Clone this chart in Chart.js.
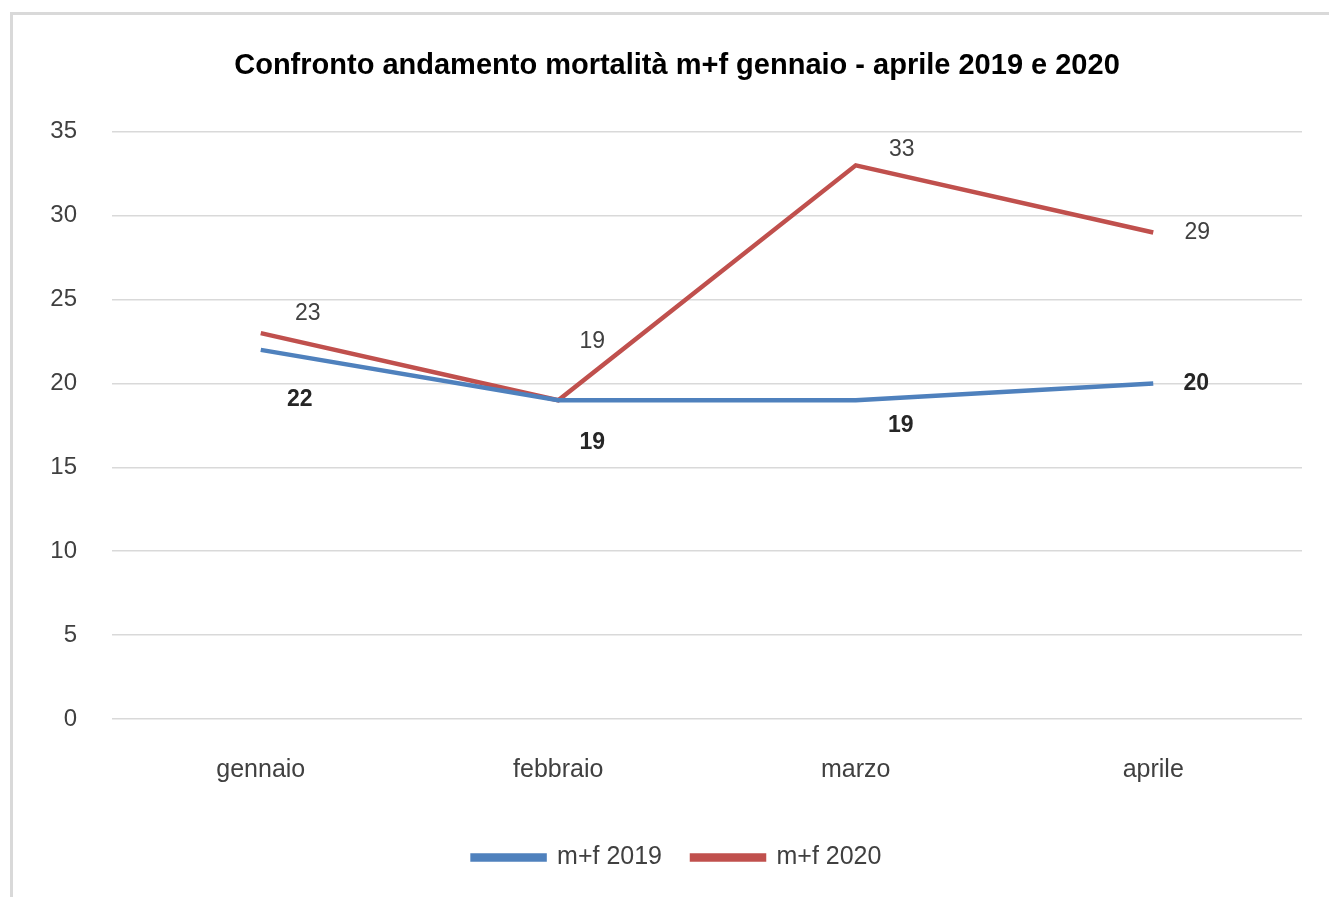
<!DOCTYPE html>
<html>
<head>
<meta charset="utf-8">
<script src="https://cdn.jsdelivr.net/npm/chart.js@4"></script>
<style>
  html, body { margin: 0; padding: 0; background: #fff; }
  #wrap { width: 1329px; height: 897px; }
</style>
</head>
<body>
<div id="wrap"><canvas id="chart" width="1329" height="897"></canvas></div>
<script>
const months = ['gennaio', 'febbraio', 'marzo', 'aprile'];
const deaths2019 = [22, 19, 19, 20];
const deaths2020 = [23, 19, 33, 29];
const yTicks = [0, 5, 10, 15, 20, 25, 30, 35];

// where each value label sits relative to its point (Excel-like placement)
const labelShift2019 = [[39, 50], [34, 42], [45, 25], [43, 0]];
const labelShift2020 = [[47, -19], [34, -59], [46, -16], [44, 0]];

const FONT = '"Liberation Sans", Arial, sans-serif';

const frame = {
    id: 'frame',
    beforeDraw(chart) {
        const ctx = chart.ctx;
        ctx.save();
        ctx.strokeStyle = '#d9d9d9';
        ctx.lineWidth = 3;
        ctx.strokeRect(11.5, 13.5, 1400, 1000);
        ctx.restore();
    }
};

const valueLabels = {
    id: 'valueLabels',
    afterDatasetsDraw(chart) {
        const ctx = chart.ctx;
        ctx.save();
        ctx.textAlign = 'center';
        ctx.textBaseline = 'middle';
        chart.data.datasets.forEach((ds, di) => {
            const meta = chart.getDatasetMeta(di);
            const shifts = di === 0 ? labelShift2019 : labelShift2020;
            ctx.font = (di === 0 ? 'bold ' : '') + '23px ' + FONT;
            ctx.fillStyle = di === 0 ? '#262626' : '#404040';
            meta.data.forEach((pt, i) => {
                ctx.fillText(String(ds.data[i]), pt.x + shifts[i][0], pt.y + shifts[i][1]);
            });
        });
        ctx.restore();
    }
};

new Chart(document.getElementById('chart'), {
    type: 'line',
    data: {
        labels: months,
        datasets: [{
            label: 'm+f 2019',
            data: deaths2019,
            borderColor: '#4f81bd',
            backgroundColor: '#4f81bd',
            borderWidth: 4.5,
            pointRadius: 0,
            tension: 0
        }, {
            label: 'm+f 2020',
            data: deaths2020,
            borderColor: '#c0504d',
            backgroundColor: '#c0504d',
            borderWidth: 4.5,
            pointRadius: 0,
            tension: 0
        }]
    },
    options: {
        responsive: false,
        animation: false,
        layout: { padding: { left: 25, right: 0, top: 0, bottom: 17 } },
        plugins: {
            title: {
                display: true,
                text: 'Confronto andamento mortalità m+f gennaio - aprile 2019 e 2020',
                color: '#000',
                font: { family: FONT, size: 29, weight: 'bold' },
                padding: { top: 49, bottom: 48 }
            },
            legend: {
                position: 'bottom',
                labels: {
                    boxWidth: 72,
                    boxHeight: 4,
                    padding: 30,
                    color: '#404040',
                    font: { family: FONT, size: 25 }
                }
            },
            tooltip: { enabled: false }
        },
        scales: {
            x: {
                offset: true,
                grid: { display: false },
                border: { display: false },
                ticks: {
                    padding: 28,
                    color: '#404040',
                    font: { family: FONT, size: 25 }
                },
                afterFit(scale) { scale.height = 96; }
            },
            y: {
                min: 0,
                max: 35,
                afterBuildTicks(scale) { scale.ticks = yTicks.map(v => ({ value: v })); },
                grid: { color: '#d9d9d9', lineWidth: 1.5, drawTicks: false },
                border: { display: false },
                ticks: {
                    padding: 35,
                    color: '#404040',
                    font: { family: FONT, size: 24 }
                },
                afterFit(scale) { scale.width = 87; }
            },
            // empty right-hand spacer so the plot stops short of the frame edge
            yRight: {
                position: 'right',
                min: 0,
                max: 35,
                grid: { display: false },
                border: { display: false },
                ticks: { display: false },
                afterFit(scale) { scale.width = 27; }
            }
        }
    },
    plugins: [frame, valueLabels]
});
</script>
</body>
</html>
